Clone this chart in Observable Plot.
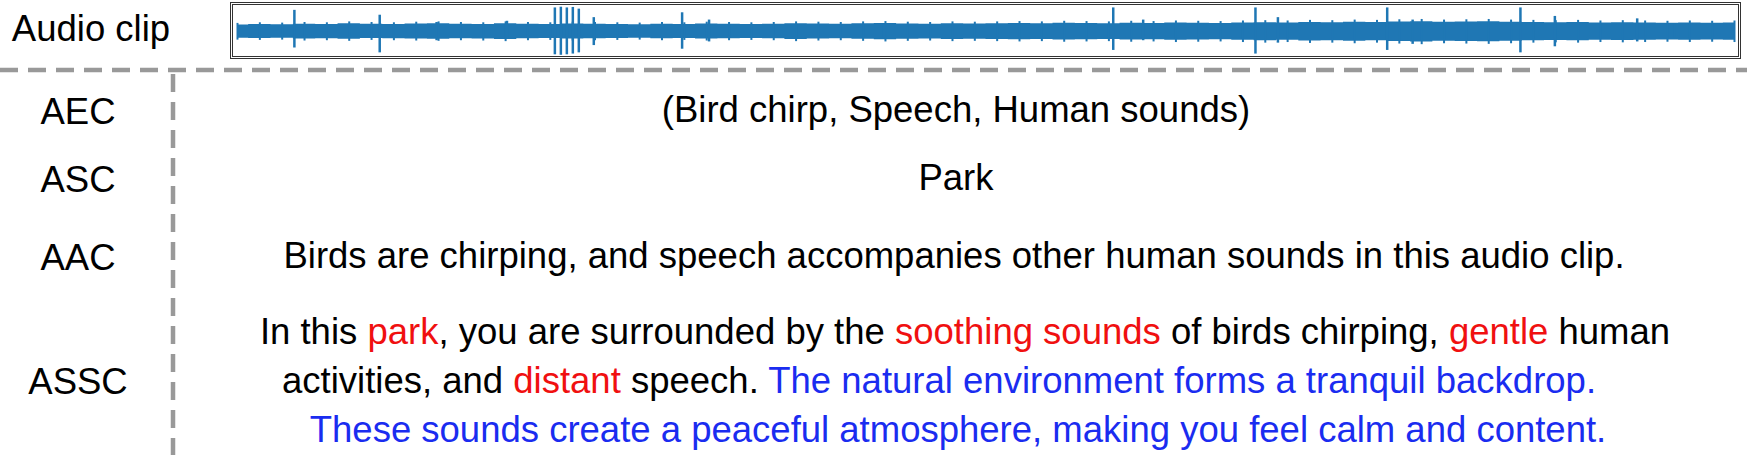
<!DOCTYPE html>
<html><head><meta charset="utf-8">
<script src="https://cdn.jsdelivr.net/npm/d3@7"></script>
<script src="https://cdn.jsdelivr.net/npm/@observablehq/plot@0.6"></script>
<style>
body{margin:0;width:1747px;height:455px;background:#fff;font-family:"Liberation Sans",Arial,sans-serif;position:relative;overflow:hidden}
.t{position:absolute;font-size:36.5px;color:#000;white-space:nowrap;transform:translate(-50%,-50%)}
.r{color:#f01010}.b{color:#1a2cf0}
#wave{position:absolute;left:230px;top:2px;width:1505px;height:51px;border:3px double #333}
</style></head><body>
<div id="wave"></div>
<div class="t" style="left:91px;top:29px">Audio clip</div>
<div class="t" style="left:78px;top:112px">AEC</div>
<div class="t" style="left:78px;top:180px">ASC</div>
<div class="t" style="left:78px;top:258px">AAC</div>
<div class="t" style="left:78px;top:382px">ASSC</div>
<div class="t" style="left:956px;top:110px">(Bird chirp, Speech, Human sounds)</div>
<div class="t" style="left:956px;top:178px">Park</div>
<div class="t" style="left:954px;top:256px">Birds are chirping, and speech accompanies other human sounds in this audio clip.</div>
<div class="t" style="left:965px;top:332px">In this <span class="r">park</span>, you are surrounded by the <span class="r">soothing sounds</span> of birds chirping, <span class="r">gentle</span> human</div>
<div class="t" style="left:939px;top:381px">activities, and <span class="r">distant</span> speech. <span class="b">The natural environment forms a tranquil backdrop.</span></div>
<div class="t b" style="left:958px;top:430px">These sounds create a peaceful atmosphere, making you feel calm and content.</div>
<svg style="position:absolute;left:0;top:0" width="1747" height="455">
<line x1="0" x2="1747" y1="70" y2="70" stroke="#999" stroke-width="4.5" stroke-dasharray="18,10"/>
<line x1="173" x2="173" y1="74" y2="455" stroke="#999" stroke-width="4.5" stroke-dasharray="18,10"/>
</svg>
<script>
// waveform envelope, 68 segments across the clip (fraction 0..1)
const baseUp = [0.25,0.27,0.26,0.28,0.27,0.30,0.28,0.27,0.29,0.30,0.28,0.27,0.30,0.28,0.27,0.29,0.28,0.27,0.26,0.28,0.27,0.29,0.28,0.27,0.28,0.30,0.29,0.28,0.30,0.31,0.29,0.28,0.30,0.29,0.30,0.31,0.30,0.32,0.31,0.30,0.32,0.31,0.33,0.32,0.31,0.33,0.34,0.33,0.35,0.34,0.36,0.35,0.37,0.38,0.36,0.37,0.38,0.36,0.35,0.34,0.35,0.33,0.34,0.33,0.32,0.33,0.32,0.33];
const baseDn = [0.30,0.31,0.30,0.33,0.32,0.34,0.31,0.32,0.33,0.34,0.32,0.33,0.35,0.32,0.31,0.33,0.32,0.31,0.30,0.32,0.31,0.33,0.32,0.31,0.32,0.35,0.33,0.32,0.34,0.36,0.34,0.33,0.35,0.34,0.35,0.36,0.35,0.37,0.36,0.35,0.37,0.36,0.38,0.37,0.36,0.38,0.40,0.38,0.41,0.40,0.42,0.40,0.43,0.45,0.42,0.43,0.44,0.42,0.40,0.39,0.40,0.38,0.39,0.38,0.37,0.38,0.37,0.38];
// spikes: position, up amplitude, down amplitude
const spikePos = [0.038,0.095,0.133,0.180,0.212,0.216,0.220,0.224,0.228,0.238,0.297,0.315,0.432,0.585,0.605,0.680,0.695,0.768,0.785,0.857,0.880,0.935,0.960];
const spikeUp  = [0.85,0.65,0.35,0.40,0.95,0.98,0.95,0.97,0.90,0.55,0.75,0.45,0.30,0.95,0.45,0.95,0.55,0.95,0.45,0.95,0.60,0.50,0.30];
const spikeDn  = [0.70,0.90,0.40,0.30,0.98,1.00,0.98,0.95,0.90,0.60,0.75,0.45,0.30,0.80,0.40,0.95,0.50,0.80,0.55,0.90,0.65,0.45,0.30];

const seg = baseUp.map((u,i)=>({x:i/(baseUp.length-1), up:u, dn:-baseDn[i]}));
const spikes = spikePos.map((p,i)=>({x:p, up:spikeUp[i], dn:-spikeDn[i]}));
const c = "#1f77b4";
const plot = Plot.plot({
  width:1505, height:51, margin:0, marginLeft:4, marginRight:4,
  x:{domain:[0,1], axis:null}, y:{domain:[-1.05,1.05], axis:null},
  marks:[
    Plot.areaY(seg,{x:"x", y1:"dn", y2:"up", fill:c, curve:"step"}),
    Plot.ruleX(seg,{x:"x", y1:d=>d.dn*1.25, y2:d=>d.up*1.25, stroke:c, strokeWidth:2}),
    Plot.ruleX(spikes,{x:"x", y1:"dn", y2:"up", stroke:c, strokeWidth:2.5})
  ]
});
document.getElementById("wave").appendChild(plot);
</script>
</body></html>
